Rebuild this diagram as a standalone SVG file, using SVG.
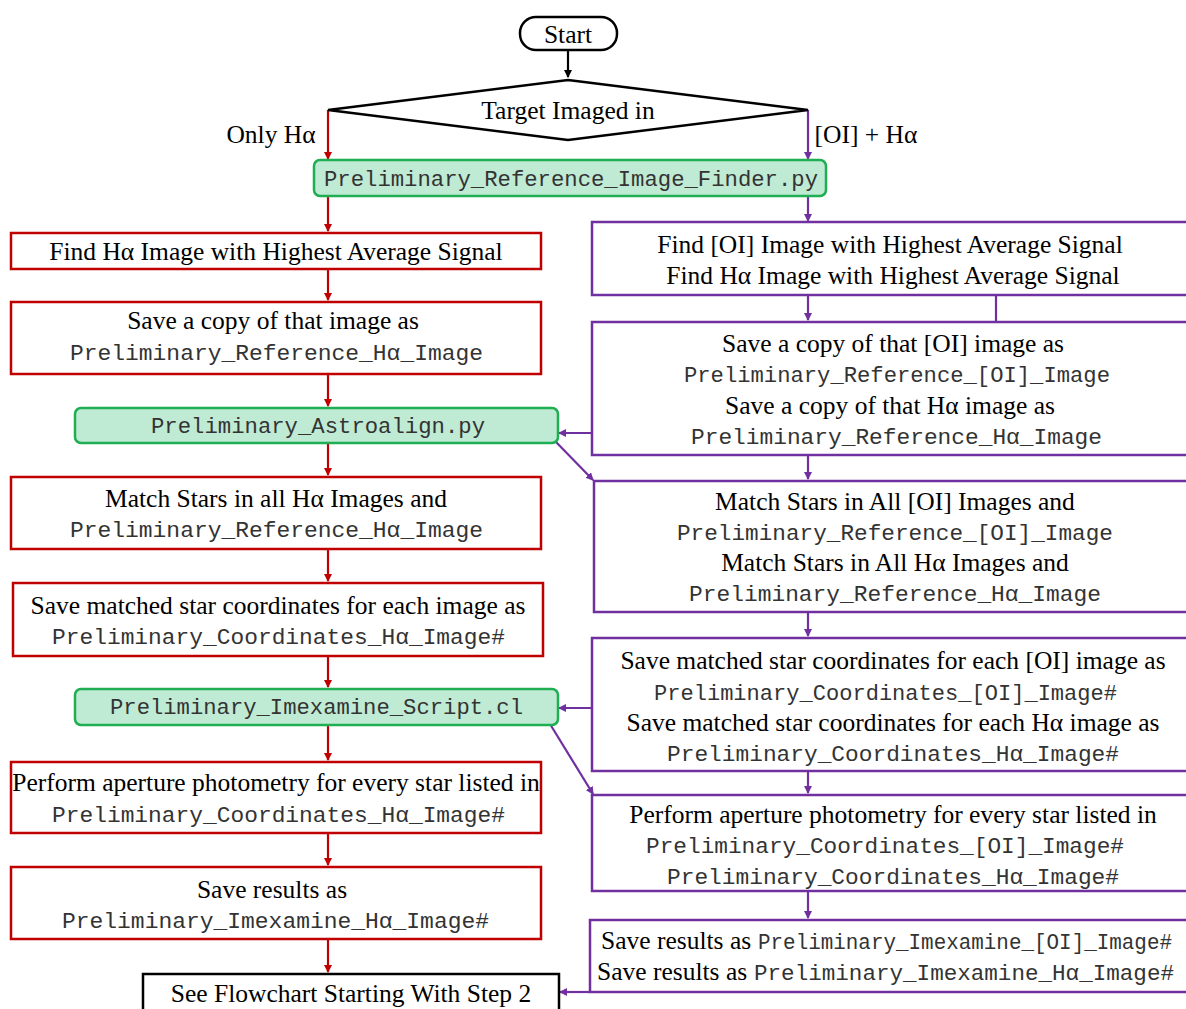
<svg xmlns="http://www.w3.org/2000/svg" width="1186" height="1009" viewBox="0 0 1186 1009">
<style>
.s{font-family:"Liberation Serif","Times New Roman",serif;font-size:25.5px;fill:#000;text-anchor:middle}
.sl{font-family:"Liberation Serif","Times New Roman",serif;font-size:25.5px;fill:#000}
.m{font-family:"Liberation Mono","Courier New",monospace;font-size:22.5px;fill:#333;text-anchor:middle}
.ml{font-family:"Liberation Mono","Courier New",monospace;font-size:21.2px;fill:#333}
.red{fill:#fff;stroke:#c00000;stroke-width:2.5}
.pur{fill:#fff;stroke:#7030a0;stroke-width:2.5}
.grn{fill:#bfead4;stroke:#1fae52;stroke-width:2.5}
.blk{fill:#fff;stroke:#000;stroke-width:2.5}
.cr{stroke:#c00000;stroke-width:2.2;fill:none;marker-end:url(#ar)}
.cp{stroke:#7030a0;stroke-width:2.2;fill:none;marker-end:url(#ap)}
.cpn{stroke:#7030a0;stroke-width:2.2;fill:none}
.ck{stroke:#000;stroke-width:2.2;fill:none;marker-end:url(#ak)}
</style>
<defs>
<marker id="ar" markerWidth="8" markerHeight="8" refX="7" refY="4" orient="auto" markerUnits="userSpaceOnUse"><path d="M0,0 L8,4 L0,8 Z" fill="#c00000"/></marker>
<marker id="ap" markerWidth="8" markerHeight="8" refX="7" refY="4" orient="auto" markerUnits="userSpaceOnUse"><path d="M0,0 L8,4 L0,8 Z" fill="#7030a0"/></marker>
<marker id="ak" markerWidth="8" markerHeight="8" refX="7" refY="4" orient="auto" markerUnits="userSpaceOnUse"><path d="M0,0 L8,4 L0,8 Z" fill="#000"/></marker>
</defs>

<g id="connectors">
<path class="ck" d="M568,51 V77"/>
<path class="cr" d="M328,110 V159"/>
<path class="cp" d="M808,110 V159"/>
<path class="cr" d="M328,196 V231"/>
<path class="cp" d="M808,196 V221"/>
<path class="cr" d="M328,269 V300"/>
<path class="cr" d="M328,374 V406"/>
<path class="cr" d="M328,443 V475"/>
<path class="cr" d="M328,549 V581"/>
<path class="cr" d="M328,656 V687"/>
<path class="cr" d="M328,725 V760"/>
<path class="cr" d="M328,833 V865"/>
<path class="cr" d="M328,939 V972"/>
<path class="cp" d="M808,295 V320"/>
<path class="cpn" d="M996,295 V322"/>
<path class="cp" d="M592,433 H559"/>
<path class="cp" d="M808,455 V479"/>
<path class="cp" d="M556,442 L593,480"/>
<path class="cp" d="M808,612 V636"/>
<path class="cp" d="M592,708 H559"/>
<path class="cp" d="M550,724 L593,794"/>
<path class="cp" d="M808,771 V793"/>
<path class="cp" d="M808,891 V918"/>
<path class="cp" d="M590,992 H560"/>
</g>

<g id="start"><rect class="blk" x="520" y="17" width="97" height="33" rx="16"/><text class="s" x="568" y="43">Start</text></g>
<g id="decision"><polygon class="blk" points="568,80 808,110 568,140 328,110"/><text class="s" x="568" y="119">Target Imaged in</text></g>
<g id="label-only-ha"><text class="s" x="271" y="143">Only Hα</text></g>
<g id="label-oi-ha"><text class="s" x="866" y="143">[OI] + Hα</text></g>

<g id="finder"><rect class="grn" x="314" y="160" width="512" height="36" rx="6"/><text class="m" x="571" y="186" textLength="494" lengthAdjust="spacingAndGlyphs">Preliminary_Reference_Image_Finder.py</text></g>

<g id="L1"><rect class="red" x="11" y="233" width="530" height="36"/><text class="s" x="276" y="260">Find Hα Image with Highest Average Signal</text></g>
<g id="L2"><rect class="red" x="11" y="302" width="530" height="72"/><text class="s" x="273" y="329">Save a copy of that image as</text><text class="m" x="276.5" y="360" textLength="413" lengthAdjust="spacingAndGlyphs">Preliminary_Reference_Hα_Image</text></g>
<g id="astroalign"><rect class="grn" x="75" y="408" width="483" height="35" rx="6"/><text class="m" x="318" y="433" textLength="334" lengthAdjust="spacingAndGlyphs">Preliminary_Astroalign.py</text></g>
<g id="L4"><rect class="red" x="11" y="477" width="530" height="72"/><text class="s" x="276" y="507">Match Stars in all Hα Images and</text><text class="m" x="276.5" y="537" textLength="413" lengthAdjust="spacingAndGlyphs">Preliminary_Reference_Hα_Image</text></g>
<g id="L5"><rect class="red" x="13" y="583" width="530" height="73"/><text class="s" x="278" y="614">Save matched star coordinates for each image as</text><text class="m" x="278.5" y="644" textLength="453" lengthAdjust="spacingAndGlyphs">Preliminary_Coordinates_Hα_Image#</text></g>
<g id="imexamine"><rect class="grn" x="75" y="689" width="483" height="36" rx="6"/><text class="m" x="316.5" y="714" textLength="413" lengthAdjust="spacingAndGlyphs">Preliminary_Imexamine_Script.cl</text></g>
<g id="L7"><rect class="red" x="11" y="762" width="530" height="71"/><text class="s" x="276" y="791">Perform aperture photometry for every star listed in</text><text class="m" x="278.5" y="822" textLength="453" lengthAdjust="spacingAndGlyphs">Preliminary_Coordinates_Hα_Image#</text></g>
<g id="L8"><rect class="red" x="11" y="867" width="530" height="72"/><text class="s" x="272" y="898">Save results as</text><text class="m" x="275.5" y="928" textLength="427" lengthAdjust="spacingAndGlyphs">Preliminary_Imexamine_Hα_Image#</text></g>
<g id="step2"><rect class="blk" x="143" y="974" width="416" height="45"/><text class="s" x="351" y="1002">See Flowchart Starting With Step 2</text></g>

<g id="R1"><rect class="pur" x="592" y="222" width="600" height="73"/><text class="s" x="890" y="253">Find [OI] Image with Highest Average Signal</text><text class="s" x="893" y="284">Find Hα Image with Highest Average Signal</text></g>
<g id="R2"><rect class="pur" x="592" y="322" width="600" height="133"/><text class="s" x="893" y="352">Save a copy of that [OI] image as</text><text class="m" x="897" y="382" textLength="426" lengthAdjust="spacingAndGlyphs">Preliminary_Reference_[OI]_Image</text><text class="s" x="890" y="414">Save a copy of that Hα image as</text><text class="m" x="896.5" y="444" textLength="411" lengthAdjust="spacingAndGlyphs">Preliminary_Reference_Hα_Image</text></g>
<g id="R3"><rect class="pur" x="594" y="481" width="598" height="131"/><text class="s" x="895" y="510">Match Stars in All [OI] Images and</text><text class="m" x="895" y="540" textLength="436" lengthAdjust="spacingAndGlyphs">Preliminary_Reference_[OI]_Image</text><text class="s" x="895" y="571">Match Stars in All Hα Images and</text><text class="m" x="895" y="601" textLength="412" lengthAdjust="spacingAndGlyphs">Preliminary_Reference_Hα_Image</text></g>
<g id="R4"><rect class="pur" x="592" y="638" width="600" height="133"/><text class="s" x="893" y="669">Save matched star coordinates for each [OI] image as</text><text class="m" x="885.5" y="700" textLength="463" lengthAdjust="spacingAndGlyphs">Preliminary_Coordinates_[OI]_Image#</text><text class="s" x="893" y="731">Save matched star coordinates for each Hα image as</text><text class="m" x="893" y="761" textLength="452" lengthAdjust="spacingAndGlyphs">Preliminary_Coordinates_Hα_Image#</text></g>
<g id="R5"><rect class="pur" x="592" y="795" width="600" height="96"/><text class="s" x="893" y="823">Perform aperture photometry for every star listed in</text><text class="m" x="885" y="853" textLength="478" lengthAdjust="spacingAndGlyphs">Preliminary_Coordinates_[OI]_Image#</text><text class="m" x="893" y="884" textLength="452" lengthAdjust="spacingAndGlyphs">Preliminary_Coordinates_Hα_Image#</text></g>
<g id="R6"><rect class="pur" x="590" y="920" width="602" height="72"/><text class="sl" x="601" y="949">Save results as</text><text class="ml" x="758" y="949" textLength="414" lengthAdjust="spacingAndGlyphs">Preliminary_Imexamine_[OI]_Image#</text><text class="sl" x="597" y="980">Save results as</text><text class="ml" x="754" y="980" textLength="420" lengthAdjust="spacingAndGlyphs">Preliminary_Imexamine_Hα_Image#</text></g>
</svg>
